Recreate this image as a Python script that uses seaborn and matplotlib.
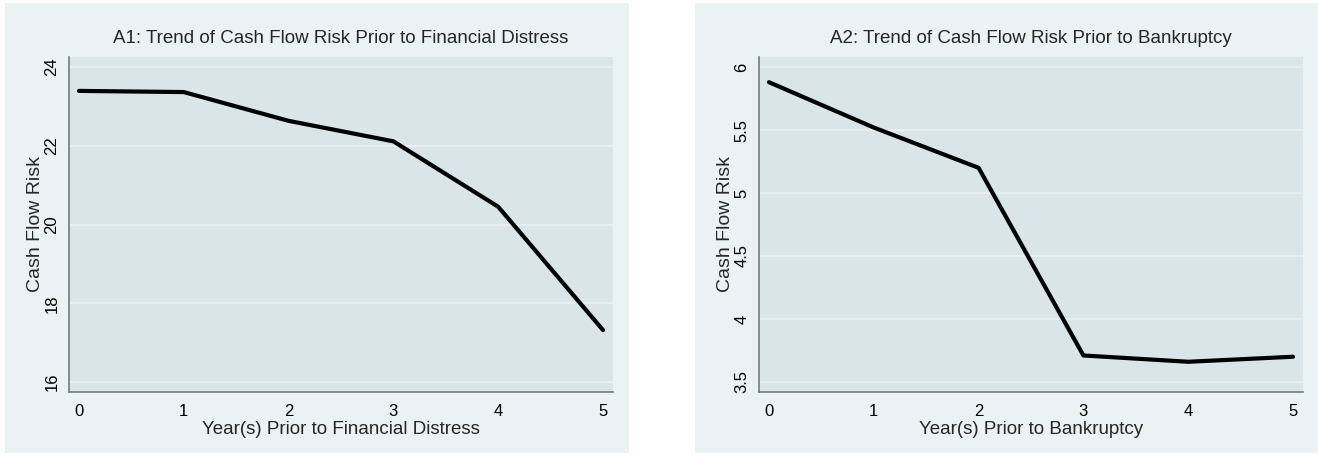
import numpy as np
import pandas as pd
import matplotlib
matplotlib.use("Agg")
import matplotlib.pyplot as plt
from matplotlib.patches import Rectangle
import seaborn as sns

# data
years = [0, 1, 2, 3, 4, 5]
risk_distress = [23.39, 23.36, 22.63, 22.11, 20.45, 17.32]
risk_bankrupt = [5.88, 5.52, 5.20, 3.71, 3.66, 3.70]

ticks_distress = [16, 18, 20, 22, 24]
ticks_bankrupt = [3.5, 4, 4.5, 5, 5.5, 6]
tick_labels_bankrupt = ["3.5", "4", "4.5", "5", "5.5", "6"]

outer_bg = "#EAF2F3"
plot_bg = "#D9E5E9"
axis_col = "#6F7E82"

sns.set_style("white")
plt.rcParams["font.family"] = ["Liberation Sans", "DejaVu Sans"]

fig = plt.figure(figsize=(13.18, 4.55), dpi=100)
fig.patch.set_facecolor("white")

W, H = 1318, 455
# panel backgrounds (graph region)
fig.add_artist(Rectangle((5 / W, 1 - 453 / H), (629 - 5) / W, 450 / H,
                         transform=fig.transFigure, facecolor=outer_bg,
                         edgecolor="none", zorder=0))
fig.add_artist(Rectangle((695 / W, 1 - 453 / H), (1318 - 695) / W, 450 / H,
                         transform=fig.transFigure, facecolor=outer_bg,
                         edgecolor="none", zorder=0))

ax1 = fig.add_axes([69 / W, 1 - 392 / H, (613 - 69) / W, (392 - 57) / H])
ax2 = fig.add_axes([759 / W, 1 - 392 / H, (1303 - 759) / W, (392 - 57) / H])

df1 = pd.DataFrame({"year": years, "risk": risk_distress})
df2 = pd.DataFrame({"year": years, "risk": risk_bankrupt})

panels = [
    (ax1, df1, "A1: Trend of Cash Flow Risk Prior to Financial Distress",
     "Year(s) Prior to Financial Distress", ticks_distress,
     [str(t) for t in ticks_distress], (15.75, 24.25)),
    (ax2, df2, "A2: Trend of Cash Flow Risk Prior to Bankruptcy",
     "Year(s) Prior to Bankruptcy", ticks_bankrupt,
     tick_labels_bankrupt, (3.42, 6.08)),
]

for ax, df, title, xlabel, yt, ytl, ylim in panels:
    ax.set_facecolor(plot_bg)
    for yv in yt:
        ax.axhline(yv, color=outer_bg, lw=1.2, zorder=1)
    sns.lineplot(data=df, x="year", y="risk", ax=ax, color="black",
                 lw=3, zorder=3)
    ax.set_xlim(-0.095, 5.095)
    ax.set_ylim(*ylim)
    ax.set_xticks(years)
    ax.set_yticks(yt)
    ax.set_yticklabels(ytl, rotation=90, va="center")
    ax.tick_params(axis="both", direction="out", length=4, width=1,
                   color=axis_col, labelsize=12, pad=3, labelcolor="black")
    ax.tick_params(axis="x", pad=5)
    for s in ["top", "right"]:
        ax.spines[s].set_visible(False)
    for s in ["left", "bottom"]:
        ax.spines[s].set_color(axis_col)
        ax.spines[s].set_linewidth(1.2)
    ax.set_title(title, fontsize=13.5, pad=10)
    ax.set_xlabel(xlabel, fontsize=13.5, labelpad=1)
    ax.set_ylabel("Cash Flow Risk", fontsize=14, labelpad=0)

fig.savefig("out.png", dpi=100, facecolor=fig.get_facecolor())
